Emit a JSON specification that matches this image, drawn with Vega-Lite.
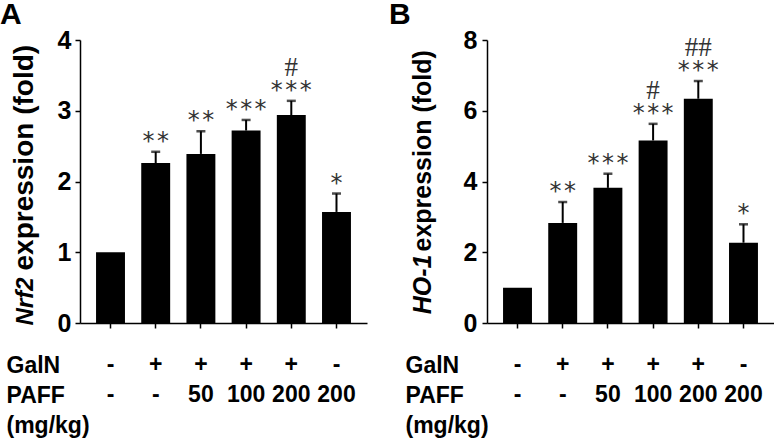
{
  "$schema": "https://vega.github.io/schema/vega-lite/v6.json",
  "background": "white",
  "padding": {"left": 0, "top": 0, "right": 0, "bottom": 0},
  "datasets": {
    "nrf2": [
      {"group": "1", "value": 1.0, "upper": 1.0, "stars": "", "hash": ""},
      {"group": "2", "value": 2.26, "upper": 2.42, "stars": "**", "hash": ""},
      {"group": "3", "value": 2.39, "upper": 2.71, "stars": "**", "hash": ""},
      {"group": "4", "value": 2.72, "upper": 2.87, "stars": "***", "hash": ""},
      {"group": "5", "value": 2.94, "upper": 3.14, "stars": "***", "hash": "#"},
      {"group": "6", "value": 1.57, "upper": 1.83, "stars": "*", "hash": ""}
    ],
    "ho1": [
      {"group": "1", "value": 1.0, "upper": 1.0, "stars": "", "hash": ""},
      {"group": "2", "value": 2.83, "upper": 3.42, "stars": "**", "hash": ""},
      {"group": "3", "value": 3.82, "upper": 4.22, "stars": "***", "hash": ""},
      {"group": "4", "value": 5.16, "upper": 5.63, "stars": "***", "hash": "#"},
      {"group": "5", "value": 6.34, "upper": 6.84, "stars": "***", "hash": "##"},
      {"group": "6", "value": 2.27, "upper": 2.79, "stars": "*", "hash": ""}
    ],
    "table": [
      {"group": "1", "row": "GalN", "text": "-"},
      {"group": "2", "row": "GalN", "text": "+"},
      {"group": "3", "row": "GalN", "text": "+"},
      {"group": "4", "row": "GalN", "text": "+"},
      {"group": "5", "row": "GalN", "text": "+"},
      {"group": "6", "row": "GalN", "text": "-"},
      {"group": "1", "row": "PAFF", "text": "-"},
      {"group": "2", "row": "PAFF", "text": "-"},
      {"group": "3", "row": "PAFF", "text": "50"},
      {"group": "4", "row": "PAFF", "text": "100"},
      {"group": "5", "row": "PAFF", "text": "200"},
      {"group": "6", "row": "PAFF", "text": "200"}
    ]
  },
  "columns": 2,
  "align": "each",
  "spacing": {"row": 14, "column": 22},
  "concat": [
    {
      "title": {"text": "A", "anchor": "start", "frame": "bounds", "font": "Liberation Sans", "fontSize": 30, "fontWeight": "bold", "color": "black", "dx": -10, "offset": -2},
      "width": 287,
      "height": 283,
      "data": {"name": "nrf2"},
      "encoding": {
        "x": {"field": "group", "type": "ordinal", "scale": {"type": "band", "paddingInner": 0.36, "paddingOuter": 0.355},
              "axis": {"title": null, "labels": false, "tickSize": 5, "tickColor": "black", "tickWidth": 1.5, "domainColor": "black", "domainWidth": 1.5}}
      },
      "layer": [
        {"mark": {"type": "bar", "color": "black"},
         "encoding": {"y": {"field": "value", "type": "quantitative", "scale": {"domain": [0, 4], "nice": false},
           "axis": {"values": [0, 1, 2, 3, 4], "grid": false, "title": "expression (fold)", "titleFont": "Liberation Sans", "titleFontSize": 28, "titleFontWeight": "bold", "titleColor": "black", "titleAngle": -90, "titleAlign": "left", "titleBaseline": "alphabetic", "titleX": -48, "titleY": 230,
                    "labelFont": "Liberation Sans", "labelFontSize": 25, "labelFontWeight": "bold", "labelColor": "black", "labelPadding": 4, "tickSize": 5, "tickColor": "black", "tickWidth": 1.5, "domainColor": "black", "domainWidth": 1.5}}}},
        {"transform": [{"filter": "datum.upper > datum.value"}],
         "mark": {"type": "rule", "color": "black", "strokeWidth": 2},
         "encoding": {"y": {"field": "value", "type": "quantitative", "scale": {"domain": [0, 4], "nice": false},
           "axis": {"orient": "left", "grid": false, "labels": false, "ticks": false, "domain": false, "title": "Nrf2", "titleFont": "Liberation Sans", "titleFontSize": 24, "titleFontWeight": "bold", "titleFontStyle": "italic", "titleColor": "black", "titleAngle": -90, "titleAlign": "right", "titleBaseline": "alphabetic", "titleX": -48, "titleY": 237}},
           "y2": {"field": "upper"}}},
        {"transform": [{"filter": "datum.upper > datum.value"}],
         "mark": {"type": "tick", "color": "black", "size": 9, "thickness": 2.5},
         "encoding": {"y": {"field": "upper", "type": "quantitative", "scale": {"domain": [0, 4], "nice": false}, "axis": null}}},
        {"transform": [{"filter": "datum.stars != ''"}],
         "mark": {"type": "text", "font": "DejaVu Sans Mono", "fontSize": 24, "color": "#333333", "baseline": "middle", "dy": -10},
         "encoding": {"y": {"field": "upper", "type": "quantitative", "scale": {"domain": [0, 4], "nice": false}, "axis": null}, "text": {"field": "stars"}}},
        {"transform": [{"filter": "datum.hash != ''"}],
         "mark": {"type": "text", "font": "Liberation Serif", "fontSize": 27, "color": "#333333", "baseline": "middle", "dy": -33},
         "encoding": {"y": {"field": "upper", "type": "quantitative", "scale": {"domain": [0, 4], "nice": false}, "axis": null}, "text": {"field": "hash"}}}
      ],
      "resolve": {"axis": {"y": "independent"}}
    },
    {
      "title": {"text": "B", "anchor": "start", "frame": "bounds", "font": "Liberation Sans", "fontSize": 30, "fontWeight": "bold", "color": "black", "dx": -21, "offset": -2},
      "width": 287,
      "height": 283,
      "data": {"name": "ho1"},
      "encoding": {
        "x": {"field": "group", "type": "ordinal", "scale": {"type": "band", "paddingInner": 0.36, "paddingOuter": 0.355},
              "axis": {"title": null, "labels": false, "tickSize": 5, "tickColor": "black", "tickWidth": 1.5, "domainColor": "black", "domainWidth": 1.5}}
      },
      "layer": [
        {"mark": {"type": "bar", "color": "black"},
         "encoding": {"y": {"field": "value", "type": "quantitative", "scale": {"domain": [0, 8], "nice": false},
           "axis": {"values": [0, 2, 4, 6, 8], "grid": false, "title": "expression (fold)", "titleFont": "Liberation Sans", "titleFontSize": 25, "titleFontWeight": "bold", "titleColor": "black", "titleAngle": -90, "titleAlign": "left", "titleBaseline": "alphabetic", "titleX": -57, "titleY": 211,
                    "labelFont": "Liberation Sans", "labelFontSize": 25, "labelFontWeight": "bold", "labelColor": "black", "labelPadding": 5, "tickSize": 5, "tickColor": "black", "tickWidth": 1.5, "domainColor": "black", "domainWidth": 1.5}}}},
        {"transform": [{"filter": "datum.upper > datum.value"}],
         "mark": {"type": "rule", "color": "black", "strokeWidth": 2},
         "encoding": {"y": {"field": "value", "type": "quantitative", "scale": {"domain": [0, 8], "nice": false},
           "axis": {"orient": "left", "grid": false, "labels": false, "ticks": false, "domain": false, "title": "HO-1", "titleFont": "Liberation Sans", "titleFontSize": 25, "titleFontWeight": "bold", "titleFontStyle": "italic", "titleColor": "black", "titleAngle": -90, "titleAlign": "right", "titleBaseline": "alphabetic", "titleX": -57, "titleY": 214}},
           "y2": {"field": "upper"}}},
        {"transform": [{"filter": "datum.upper > datum.value"}],
         "mark": {"type": "tick", "color": "black", "size": 9, "thickness": 2.5},
         "encoding": {"y": {"field": "upper", "type": "quantitative", "scale": {"domain": [0, 8], "nice": false}, "axis": null}}},
        {"transform": [{"filter": "datum.stars != ''"}],
         "mark": {"type": "text", "font": "DejaVu Sans Mono", "fontSize": 24, "color": "#333333", "baseline": "middle", "dy": -10},
         "encoding": {"y": {"field": "upper", "type": "quantitative", "scale": {"domain": [0, 8], "nice": false}, "axis": null}, "text": {"field": "stars"}}},
        {"transform": [{"filter": "datum.hash != ''"}],
         "mark": {"type": "text", "font": "Liberation Serif", "fontSize": 27, "color": "#333333", "baseline": "middle", "dy": -33},
         "encoding": {"y": {"field": "upper", "type": "quantitative", "scale": {"domain": [0, 8], "nice": false}, "axis": null}, "text": {"field": "hash"}}}
      ],
      "resolve": {"axis": {"y": "independent"}}
    },
    {
      "width": 287,
      "height": 90,
      "data": {"name": "table"},
      "mark": {"type": "text", "font": "Liberation Sans", "fontSize": 23, "fontWeight": "bold", "color": "black"},
      "encoding": {
        "x": {"field": "group", "type": "ordinal", "scale": {"type": "band", "paddingInner": 0.36, "paddingOuter": 0.355}, "axis": null},
        "y": {"field": "row", "type": "nominal", "scale": {"domain": ["GalN", "PAFF", "(mg/kg)"]},
              "axis": {"title": null, "domain": false, "ticks": false, "tickSize": 0, "grid": false, "labelAlign": "left", "labelBaseline": "middle", "labelPadding": 74, "labelFont": "Liberation Sans", "labelFontSize": 23, "labelFontWeight": "bold", "labelColor": "black"}},
        "text": {"field": "text"}
      }
    },
    {
      "width": 287,
      "height": 90,
      "data": {"name": "table"},
      "mark": {"type": "text", "font": "Liberation Sans", "fontSize": 23, "fontWeight": "bold", "color": "black"},
      "encoding": {
        "x": {"field": "group", "type": "ordinal", "scale": {"type": "band", "paddingInner": 0.36, "paddingOuter": 0.355}, "axis": null},
        "y": {"field": "row", "type": "nominal", "scale": {"domain": ["GalN", "PAFF", "(mg/kg)"]},
              "axis": {"title": null, "domain": false, "ticks": false, "tickSize": 0, "grid": false, "labelAlign": "left", "labelBaseline": "middle", "labelPadding": 82, "labelFont": "Liberation Sans", "labelFontSize": 23, "labelFontWeight": "bold", "labelColor": "black"}},
        "text": {"field": "text"}
      }
    }
  ],
  "config": {"view": {"stroke": null}}
}
